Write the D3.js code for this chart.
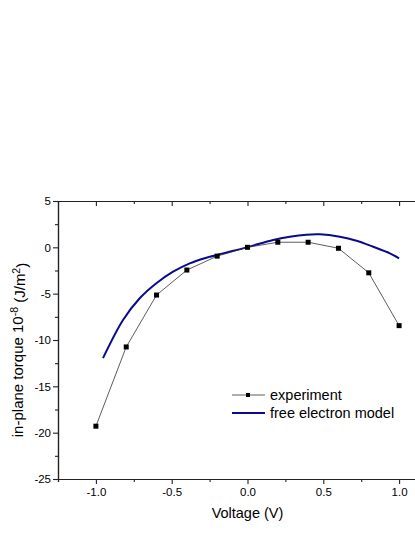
<!DOCTYPE html>
<html><head><meta charset="utf-8">
<script src="https://cdn.jsdelivr.net/npm/d3@7"></script>
<style>body{margin:0;background:#fff}svg{display:block}text{font-family:"Liberation Sans",Arial,sans-serif}</style>
</head><body><svg id="c" width="415" height="537"></svg>
<script>
const expVoltage = [-1.0,-0.8,-0.6,-0.4,-0.2,0.0,0.2,0.4,0.6,0.8,1.0];
const expTorque  = [-19.3,-10.75,-5.15,-2.45,-0.95,0.0,0.55,0.55,-0.1,-2.75,-8.45];
const modelVoltage = [-0.953,-0.821,-0.711,-0.601,-0.491,-0.381,-0.271,-0.161,0.0,0.169,0.279,0.389,0.477,0.609,0.719,0.829,0.939,1.0];
const modelTorque  = [-11.95,-7.84,-5.5,-3.88,-2.63,-1.73,-1.12,-0.65,0.02,0.79,1.14,1.36,1.40,1.14,0.71,0.06,-0.65,-1.19];
const xTicks = [-1.0,-0.5,0.0,0.5,1.0];
const xMinor = [-1.25,-0.75,-0.25,0.25,0.75,1.25];
const yTicks = [5,0,-5,-10,-15,-20,-25];
const yMinor = [2.5,-2.5,-7.5,-12.5,-17.5,-22.5];
const legendLabels = ["experiment","free electron model"];

const svg = d3.select("#c");
const L=58, R=437, T=201, B=479;
const x = d3.scaleLinear().domain([-1.25,1.25]).range([L,R]);
const y = d3.scaleLinear().domain([-25,5]).range([B,T]);
const fmt = d => d3.format(".1f")(d).replace("−","-");

// bottom axis
const gb = svg.append("g").attr("transform",`translate(0,${B})`);
gb.call(d3.axisBottom(x).tickValues(xTicks).tickSize(5).tickSizeOuter(0).tickFormat(fmt));
gb.selectAll(".tick text").attr("y",8).attr("dy","0.8em").text(fmt);
gb.append("g").call(d3.axisBottom(x).tickValues(xMinor).tickSize(3).tickFormat(""));
// top axis (ticks inward)
const gt = svg.append("g").attr("transform",`translate(0,${T})`);
gt.call(d3.axisBottom(x).tickValues(xTicks).tickSize(5).tickSizeOuter(0).tickFormat(""));
gt.append("g").call(d3.axisBottom(x).tickValues(xMinor).tickSize(3).tickSizeOuter(0).tickFormat(""));
// left axis
const gl = svg.append("g").attr("transform",`translate(${L},0)`);
gl.call(d3.axisLeft(y).tickValues(yTicks).tickSize(5).tickSizeOuter(0).tickFormat(d=>String(d)));
gl.selectAll(".tick text").attr("x",-7).text(d=>String(d));
gl.append("g").call(d3.axisLeft(y).tickValues(yMinor).tickSize(3).tickSizeOuter(0).tickFormat(""));

svg.selectAll(".domain").attr("stroke","#222").attr("stroke-width",1.2);
svg.selectAll(".tick line").attr("stroke","#222").attr("stroke-width",1.1);
svg.selectAll(".tick text").attr("font-size","11.5px").attr("fill","#000")
  .attr("font-family","'Liberation Sans',Arial,sans-serif");

// model curve
const mdata = modelVoltage.map((v,i)=>[v,modelTorque[i]]);
svg.append("path").datum(mdata)
  .attr("d", d3.line().x(d=>x(d[0])).y(d=>y(d[1])).curve(d3.curveCatmullRom.alpha(0.5)))
  .attr("fill","none").attr("stroke","#0a0a8c").attr("stroke-width",2);

// experiment
const edata = expVoltage.map((v,i)=>[v,expTorque[i]]);
svg.append("path").datum(edata)
  .attr("d", d3.line().x(d=>x(d[0])).y(d=>y(d[1])))
  .attr("fill","none").attr("stroke","#333").attr("stroke-width",0.8);
svg.selectAll("rect.pt").data(edata).enter().append("rect").attr("class","pt")
  .attr("x",d=>x(d[0])-2.5).attr("y",d=>y(d[1])-2.5).attr("width",5).attr("height",5).attr("fill","#000");

// legend
const lg = svg.append("g");
lg.append("line").attr("x1",232).attr("x2",265).attr("y1",395).attr("y2",395).attr("stroke","#333").attr("stroke-width",0.8);
lg.append("rect").attr("x",246).attr("y",393).attr("width",4).attr("height",4).attr("fill","#000");
lg.append("text").attr("x",270).attr("y",395).attr("dy","0.35em").attr("font-size","14.5px").text(legendLabels[0]);
lg.append("line").attr("x1",232).attr("x2",265).attr("y1",413).attr("y2",413).attr("stroke","#0a0a8c").attr("stroke-width",2);
lg.append("text").attr("x",270).attr("y",413).attr("dy","0.35em").attr("font-size","14.5px").text(legendLabels[1]);

// axis titles
svg.append("text").attr("x",x(0)).attr("y",518).attr("text-anchor","middle").attr("font-size","14.5px").text("Voltage (V)");
const yt = svg.append("text").attr("transform",`translate(23,350) rotate(-90)`)
  .attr("text-anchor","middle").attr("font-size","15px");
yt.append("tspan").text("in-plane torque 10");
yt.append("tspan").attr("dy","-0.45em").attr("font-size","10.5px").text("-8");
yt.append("tspan").attr("dy","0.45em").text(" (J/m");
yt.append("tspan").attr("dy","-0.45em").attr("font-size","10.5px").text("2");
yt.append("tspan").attr("dy","0.45em").text(")");
</script></body></html>
